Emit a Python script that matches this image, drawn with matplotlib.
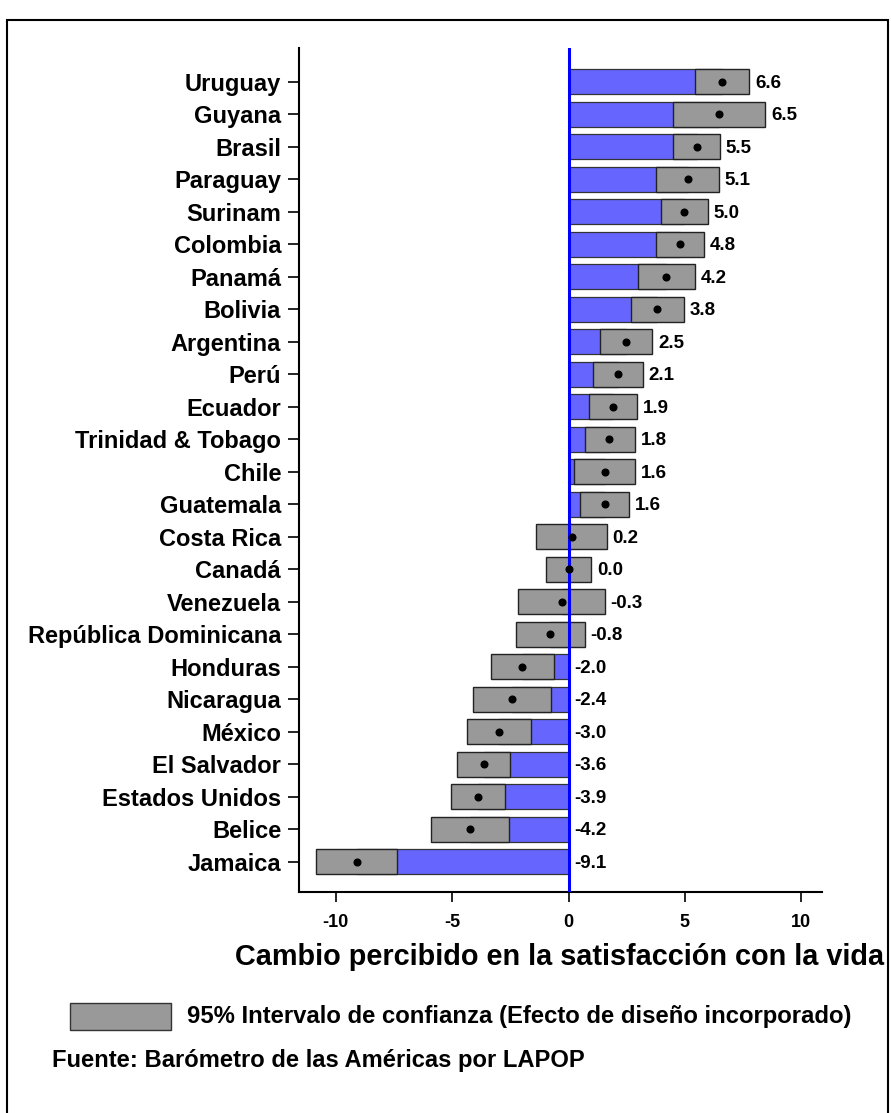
import matplotlib
matplotlib.use('Agg')
import matplotlib.pyplot as plt
from matplotlib.patches import Rectangle

plt.rcParams['font.family'] = ['Liberation Sans', 'DejaVu Sans']
plt.rcParams['font.weight'] = 'bold'

# paises de arriba hacia abajo
paises = ['Uruguay', 'Guyana', 'Brasil', 'Paraguay', 'Surinam', 'Colombia', 'Panamá',
          'Bolivia', 'Argentina', 'Perú', 'Ecuador', 'Trinidad & Tobago', 'Chile',
          'Guatemala', 'Costa Rica', 'Canadá', 'Venezuela', 'República Dominicana',
          'Honduras', 'Nicaragua', 'México', 'El Salvador', 'Estados Unidos', 'Belice',
          'Jamaica']
medias = [6.58, 6.47, 5.52, 5.12, 4.97, 4.79, 4.19, 3.82, 2.48, 2.13, 1.90, 1.76, 1.57,
          1.56, 0.16, 0.02, -0.29, -0.81, -2.01, -2.42, -2.99, -3.64, -3.90, -4.22, -9.11]
ic_inf = [5.44, 4.48, 4.51, 3.77, 3.96, 3.76, 2.98, 2.67, 1.35, 1.07, 0.89, 0.71, 0.25,
          0.51, -1.38, -0.97, -2.16, -2.27, -3.33, -4.11, -4.37, -4.80, -5.06, -5.90, -10.84]
ic_sup = [7.76, 8.45, 6.50, 6.46, 6.00, 5.83, 5.43, 4.95, 3.60, 3.19, 2.93, 2.85, 2.85,
          2.62, 1.64, 0.98, 1.56, 0.69, -0.63, -0.77, -1.60, -2.52, -2.73, -2.55, -7.38]
xticks = [-10, -5, 0, 5, 10]

W, H = 891, 1113
fig = plt.figure(figsize=(W / 100, H / 100), dpi=100)

# marco exterior
fig.patches.append(Rectangle((7 / W, -0.01), 881 / W, 1 - 20 / H + 0.01,
                             transform=fig.transFigure, fill=False,
                             edgecolor='black', linewidth=1.5))

ax = fig.add_axes([299.3 / W, 1 - 892.3 / H, (821.7 - 299.3) / W, (892.3 - 47.7) / H])

n = len(paises)
ys = [n - 1 - i for i in range(n)]
alto = 0.78

ax.barh(ys, medias, height=alto, color='#6666FF', edgecolor='#333333', linewidth=0.9, zorder=1)
anchos = [s - i for i, s in zip(ic_inf, ic_sup)]
ax.barh(ys, anchos, left=ic_inf, height=alto, color='#999999', edgecolor='#222222',
        linewidth=1.0, zorder=2)
ax.axvline(0, color='#0000FF', linewidth=2.2, zorder=3)
ax.plot(medias, ys, 'o', color='black', markersize=4.8, zorder=4)

for y, m, s in zip(ys, medias, ic_sup):
    ax.text(max(s, 0) + 0.25, y - 0.05, '{0:.1f}'.format(m), va='center', ha='left',
            fontsize=13.5, fontweight='bold')

ax.set_xlim(-11.57, 10.88)
ax.set_ylim(-0.94, n - 1 + 1.05)
ax.set_yticks(ys)
ax.set_yticklabels(paises, fontsize=17, fontweight='bold')
ax.set_xticks(xticks)
ax.set_xticklabels([str(t) for t in xticks], fontsize=13, fontweight='bold')
ax.tick_params(axis='y', length=8, width=1.2, pad=5)
ax.tick_params(axis='x', length=7.5, width=1.2, pad=8)
ax.spines['top'].set_visible(False)
ax.spines['right'].set_visible(False)
ax.spines['left'].set_linewidth(1.5)
ax.spines['bottom'].set_linewidth(1.5)

fig.text(235 / W, 1 - 957 / H, 'Cambio percibido en la satisfacción con la vida',
         fontsize=20.8, fontweight='bold', ha='left', va='center')

# leyenda
fig.patches.append(Rectangle((69.5 / W, 1 - 1030 / H), 101 / W, 27 / H,
                             transform=fig.transFigure, facecolor='#999999',
                             edgecolor='#333333', linewidth=1.0))
fig.text(187 / W, 1 - 1016 / H, '95% Intervalo de confianza (Efecto de diseño incorporado)',
         fontsize=17.2, fontweight='bold', ha='left', va='center')
fig.text(52 / W, 1 - 1060 / H, 'Fuente: Barómetro de las Américas por LAPOP',
         fontsize=17.1, fontweight='bold', ha='left', va='center')

fig.savefig('out.png', dpi=100)
